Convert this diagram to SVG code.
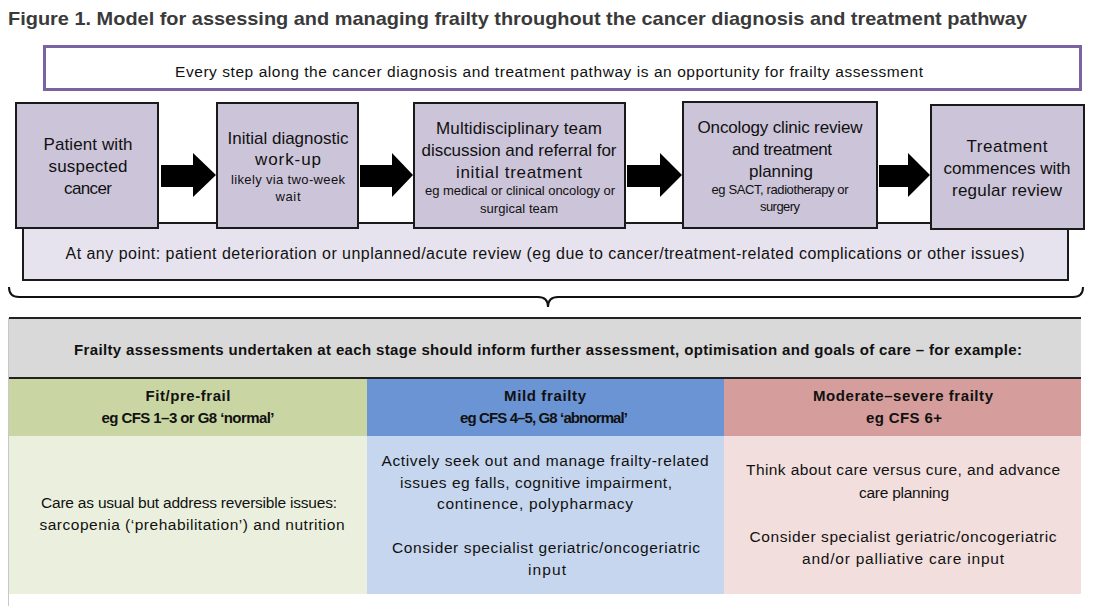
<svg xmlns="http://www.w3.org/2000/svg" width="1096" height="606" viewBox="0 0 1096 606">
<style>
text{font-family:"Liberation Sans",Arial,sans-serif;fill:#111;text-anchor:middle}
.title{font-weight:bold;font-size:19px;fill:#3a3a3a;text-anchor:start}
.ban{font-size:15.5px}
.bx{fill:#ccc4d9;stroke:#1a1a1a;stroke-width:2}
.bt{font-size:17px}
.bd{font-size:16px}
.st{font-size:13px}
.band{fill:#e7e3ee;stroke:#1a1a1a;stroke-width:2}
.arrow{fill:#000}
.b{font-weight:bold;font-size:15px}
.body{font-size:15.5px}
</style>
<rect width="1096" height="606" fill="#fff"/>
<text class="title" x="8" y="25" textLength="1019" lengthAdjust="spacingAndGlyphs">Figure 1. Model for assessing and managing frailty throughout the cancer diagnosis and treatment pathway</text>

<g id="banner">
<rect x="44.5" y="46.5" width="1036" height="43" fill="#fff" stroke="#7b63a1" stroke-width="3"/>
<text class="ban" x="549" y="77" textLength="748">Every step along the cancer diagnosis and treatment pathway is an opportunity for frailty assessment</text>
</g>

<g id="band">
<rect class="band" x="23" y="223" width="1045" height="57"/>
<text class="bd" x="545" y="258.5" textLength="959">At any point: patient deterioration or unplanned/acute review (eg due to cancer/treatment-related complications or other issues)</text>
</g>

<g id="connectors">
<polygon class="arrow" points="161,165 193,165 193,153 216,175 193,197 193,187 161,187"/>
<polygon class="arrow" points="360,165 392,165 392,153 413,175 392,197 392,187 360,187"/>
<polygon class="arrow" points="627,165 660,165 660,153 682,175 660,197 660,187 627,187"/>
<polygon class="arrow" points="879,165 908,165 908,153 930,175 908,197 908,187 879,187"/>
</g>

<g id="step1">
<rect class="bx" x="16" y="103" width="142" height="125"/>
<text class="bt" x="88" y="150" textLength="89">Patient with</text>
<text class="bt" x="88" y="172" textLength="79">suspected</text>
<text class="bt" x="88" y="194" textLength="48">cancer</text>
</g>

<g id="step2">
<rect class="bx" x="217" y="103" width="141" height="125"/>
<text class="bt" x="288" y="143.5" textLength="121">Initial diagnostic</text>
<text class="bt" x="288" y="164.5" textLength="66">work-up</text>
<text class="st" x="288" y="184" textLength="114">likely via two-week</text>
<text class="st" x="288" y="201" textLength="25">wait</text>
</g>

<g id="step3">
<rect class="bx" x="414" y="103" width="211" height="125"/>
<text class="bt" x="519" y="133.5" textLength="166">Multidisciplinary team</text>
<text class="bt" x="519" y="155.5" textLength="195">discussion and referral for</text>
<text class="bt" x="519" y="177.5" textLength="126">initial treatment</text>
<text class="st" x="520" y="195" textLength="190">eg medical or clinical oncology or</text>
<text class="st" x="519" y="213" textLength="78">surgical team</text>
</g>

<g id="step4">
<rect class="bx" x="683" y="102" width="194" height="126"/>
<text class="bt" x="780" y="132.5" textLength="165">Oncology clinic review</text>
<text class="bt" x="782" y="154.5" textLength="100">and treatment</text>
<text class="bt" x="781" y="176.5" textLength="64">planning</text>
<text class="st" x="780" y="194" textLength="137">eg SACT, radiotherapy or</text>
<text class="st" x="780" y="211" textLength="40">surgery</text>
</g>

<g id="step5">
<rect class="bx" x="931" y="105" width="153" height="124"/>
<text class="bt" x="1007" y="151.5" textLength="81">Treatment</text>
<text class="bt" x="1007" y="173.5" textLength="127">commences with</text>
<text class="bt" x="1007" y="195.5" textLength="110">regular review</text>
</g>

<g id="brace">
<path d="M9,287 Q9,297 19,297 L538,297 Q548,297 548,307 Q548,297 558,297 L1073,297 Q1083,297 1083,287" fill="none" stroke="#111" stroke-width="2"/>
</g>

<g id="table">
<rect x="9" y="318" width="1072" height="60" fill="#d9d9d9"/>
<line x1="9" y1="318" x2="1081" y2="318" stroke="#222" stroke-width="2"/>
<line x1="9" y1="378" x2="1081" y2="378" stroke="#222" stroke-width="2"/>
<text class="b" x="548" y="355" textLength="948">Frailty assessments undertaken at each stage should inform further assessment, optimisation and goals of care – for example:</text>

<g id="col-fit">
<rect x="9" y="379" width="358" height="57" fill="#c9d6a3"/>
<rect x="9" y="436" width="358" height="158" fill="#ebf0de"/>
<text class="b" x="188" y="401" textLength="85">Fit/pre-frail</text>
<text class="b" x="188" y="423" textLength="173">eg CFS 1–3 or G8 ‘normal’</text>
<text class="body" x="189" y="508" textLength="296">Care as usual but address reversible issues:</text>
<text class="body" x="192" y="530" textLength="305">sarcopenia (‘prehabilitation’) and nutrition</text>
</g>

<g id="col-mild">
<rect x="367" y="379" width="357" height="57" fill="#6a94d4"/>
<rect x="367" y="436" width="357" height="158" fill="#c6d6ee"/>
<text class="b" x="545" y="401" textLength="82">Mild frailty</text>
<text class="b" x="544" y="423" textLength="168">eg CFS 4–5, G8 ‘abnormal’</text>
<text class="body" x="545" y="466" textLength="327">Actively seek out and manage frailty-related</text>
<text class="body" x="536" y="488" textLength="272">issues eg falls, cognitive impairment,</text>
<text class="body" x="535" y="509" textLength="196">continence, polypharmacy</text>
<text class="body" x="546" y="553" textLength="308">Consider specialist geriatric/oncogeriatric</text>
<text class="body" x="547" y="575" textLength="38">input</text>
</g>

<g id="col-severe">
<rect x="724" y="379" width="357" height="57" fill="#d59d9b"/>
<rect x="724" y="436" width="357" height="158" fill="#f2dfdd"/>
<text class="b" x="903" y="401" textLength="180">Moderate–severe frailty</text>
<text class="b" x="904" y="423" textLength="76">eg CFS 6+</text>
<text class="body" x="903" y="475" textLength="314">Think about care versus cure, and advance</text>
<text class="body" x="904" y="498" textLength="90">care planning</text>
<text class="body" x="903" y="542" textLength="307">Consider specialist geriatric/oncogeriatric</text>
<text class="body" x="903" y="564" textLength="202">and/or palliative care input</text>
</g>
<line x1="8.5" y1="318" x2="8.5" y2="606" stroke="#c8c8c8" stroke-width="1"/>
</g>
</svg>
